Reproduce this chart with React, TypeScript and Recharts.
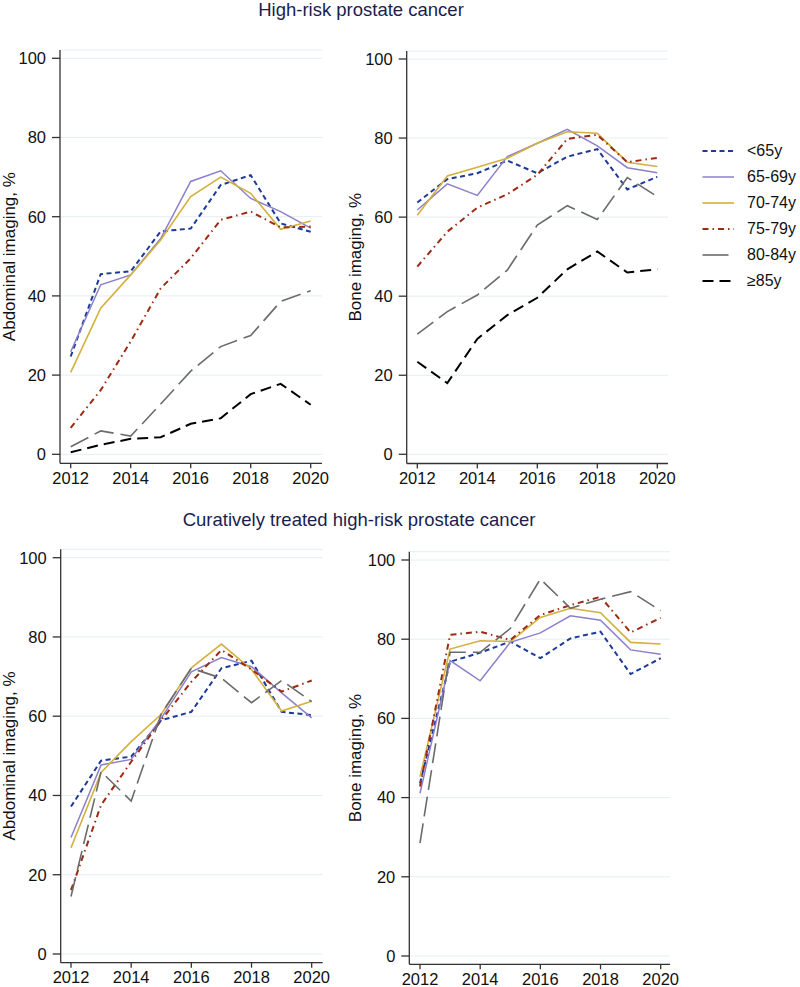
import { LineChart, Line, XAxis, YAxis, CartesianGrid, Legend } from "recharts";

// --- data ---
const years = [2012, 2013, 2014, 2015, 2016, 2017, 2018, 2019, 2020];
const ageGroups = ["<65y", "65-69y", "70-74y", "75-79y", "80-84y", "≥85y"];
const yTicks = [0, 20, 40, 60, 80, 100];
const xTicks = [2012, 2014, 2016, 2018, 2020];

// High-risk, abdominal imaging
const hrAbdLt65 = [24.7, 45.5, 46.2, 56.3, 57.0, 68.0, 70.5, 58.3, 56.2];
const hrAbd6569 = [25.9, 42.8, 45.3, 54.5, 68.9, 71.6, 64.6, 61.3, 57.1];
const hrAbd7074 = [20.7, 36.9, 45.3, 54.1, 65.1, 70.0, 65.9, 56.8, 58.9];
const hrAbd7579 = [6.7, 16.2, 28.5, 41.9, 49.5, 59.2, 61.3, 57.3, 57.5];
const hrAbd8084 = [1.9, 5.9, 4.6, 12.7, 21.0, 27.2, 30.0, 38.6, 41.3];
const hrAbd85 = [0.5, 2.4, 3.9, 4.3, 7.7, 9.1, 15.2, 17.8, 12.5];

// High-risk, bone imaging
const hrBoneLt65 = [63.7, 69.6, 71.1, 74.3, 71.1, 75.3, 77.2, 67.0, 70.2];
const hrBone6569 = [61.8, 68.4, 65.5, 75.3, 78.7, 82.2, 78.0, 72.5, 71.2];
const hrBone7074 = [60.5, 70.4, 72.6, 74.9, 78.7, 81.6, 81.2, 73.9, 72.8];
const hrBone7579 = [47.5, 56.3, 62.4, 65.8, 70.7, 79.8, 80.8, 73.9, 75.0];
const hrBone8084 = [30.4, 36.1, 40.3, 46.6, 58.0, 62.9, 59.4, 70.0, 65.2];
const hrBone85 = [23.4, 18.0, 29.2, 35.2, 39.6, 46.8, 51.3, 46.0, 46.8];

// Curatively treated, abdominal imaging
const ctAbdLt65 = [37.2, 48.8, 49.8, 59.0, 61.1, 72.1, 74.0, 61.1, 60.3];
const ctAbd6569 = [29.4, 47.7, 49.1, 59.5, 71.2, 74.8, 72.5, 65.9, 59.6];
const ctAbd7074 = [26.8, 45.8, 53.6, 60.5, 72.2, 78.2, 71.8, 61.3, 63.8];
const ctAbd7579 = [16.1, 37.6, 48.5, 59.0, 68.7, 76.7, 71.8, 66.2, 69.0];
const ctAbd8084 = [14.5, 46.0, 38.6, 60.6, 72.1, 69.6, 63.4, 69.0, 63.7];

// Curatively treated, bone imaging
const ctBoneLt65 = [43.6, 74.3, 76.6, 79.4, 75.2, 80.2, 81.9, 71.2, 75.2];
const ctBone6569 = [41.1, 74.6, 69.5, 79.2, 81.6, 85.9, 84.8, 77.3, 76.2];
const ctBone7074 = [45.3, 77.5, 79.6, 79.4, 85.5, 87.8, 86.7, 79.2, 78.8];
const ctBone7579 = [42.8, 81.1, 81.9, 79.8, 86.1, 88.6, 90.7, 81.7, 85.4];
const ctBone8084 = [28.5, 76.7, 76.7, 82.7, 95.2, 87.8, 90.1, 92.0, 87.2];

// line looks per age group (same order as ageGroups)
const LOOKS = [
  { color: "#1d3a99", width: 2, dash: "5 3.5" },
  { color: "#8b80cc", width: 1.5, dash: undefined },
  { color: "#d4b03c", width: 1.6, dash: undefined },
  { color: "#9e2a14", width: 2, dash: "6 4 1.5 4" },
  { color: "#6b6b6b", width: 1.6, dash: "20 7" },
  { color: "#000000", width: 2, dash: "11 6" },
];

const FONT = "'Liberation Sans', Arial, sans-serif";
const AXIS = "#333333";

function toRows(cols: number[][]) {
  return years.map((year, i) => {
    const row: Record<string, number> = { year };
    cols.forEach((c, k) => {
      row["s" + k] = c[i];
    });
    return row;
  });
}

type Box = {
  left: number; top: number; axisX: number; axisTop: number; axisBottom: number;
  right: number; y100: number; y0: number; x2012: number; x2020: number; labelX: number;
};

function LegendBox({ payload }: any) {
  // keep the age order, not the alphabetical one
  const items = [...(payload || [])].sort(
    (a: any, b: any) => Number(String(a.dataKey).slice(1)) - Number(String(b.dataKey).slice(1))
  );
  return (
    <div style={{ fontFamily: FONT, fontSize: 16, color: "#111" }}>
      {items.map((entry: any) => {
        const k = Number(String(entry.dataKey).slice(1));
        const look = LOOKS[k];
        const len = k === 4 ? 26 : 31.5;
        return (
          <div key={entry.value} style={{ height: 26, display: "flex", alignItems: "center" }}>
            <svg width={45} height={26} style={{ display: "block" }}>
              <line x1={0.5} x2={0.5 + len} y1={13} y2={13} stroke={look.color}
                strokeWidth={look.width} strokeDasharray={k === 4 ? undefined : look.dash} />
            </svg>
            <span style={{ whiteSpace: "nowrap", lineHeight: "26px" }}>{entry.value}</span>
          </div>
        );
      })}
    </div>
  );
}

function Panel({ box, cols, label, legend }: { box: Box; cols: number[][]; label: string; legend?: boolean }) {
  const rows = toRows(cols);
  const width = legend ? 800 - box.left : box.right + 28 - box.left;
  const height = box.axisBottom + 30 - box.top;
  return (
    <div style={{ position: "absolute", left: box.left, top: box.top }}>
      <LineChart
        width={width}
        height={height}
        data={rows}
        margin={{ top: box.axisTop - box.top, right: box.left + width - box.right, left: 0, bottom: 0 }}
      >
        <CartesianGrid vertical={false} stroke="#e4eef1" strokeWidth={1} />
        <XAxis
          dataKey="year"
          type="number"
          domain={[2012, 2020]}
          ticks={xTicks}
          interval={0}
          padding={{ left: box.x2012 - box.axisX, right: box.right - box.x2020 }}
          height={box.top + height - box.axisBottom}
          tickSize={5}
          tickMargin={4}
          stroke={AXIS}
          strokeWidth={1.3}
          tick={{ fill: "#111", fontSize: 16.5, fontFamily: FONT }}
          allowDecimals={false}
        />
        <YAxis
          type="number"
          domain={[0, 100]}
          ticks={yTicks}
          interval={0}
          width={box.axisX - box.left}
          padding={{ top: box.y100 - box.axisTop, bottom: box.axisBottom - box.y0 }}
          tickSize={8}
          tickMargin={6}
          stroke={AXIS}
          strokeWidth={1.3}
          tick={{ fill: "#111", fontSize: 16.5, fontFamily: FONT }}
          label={{
            value: label,
            angle: -90,
            position: "insideLeft",
            offset: box.labelX,
            style: { textAnchor: "middle", fontSize: 17, fontFamily: FONT, fill: "#111" },
          }}
        />
        {legend && (
          <Legend
            layout="vertical"
            verticalAlign="middle"
            align="center"
            content={<LegendBox />}
            wrapperStyle={{ position: "absolute", left: 702 - box.left, top: 151 - 13 - box.top, width: 98 }}
          />
        )}
        {cols.map((_, k) => (
          <Line
            key={k}
            dataKey={"s" + k}
            name={ageGroups[k]}
            type="linear"
            stroke={LOOKS[k].color}
            strokeWidth={LOOKS[k].width}
            strokeDasharray={LOOKS[k].dash}
            dot={false}
            activeDot={false}
            isAnimationActive={false}
          />
        ))}
      </LineChart>
    </div>
  );
}

const P1: Box = { left: 0, top: 40, axisX: 60, axisTop: 50, axisBottom: 463.3, right: 322, y100: 58.3, y0: 454.3, x2012: 70.7, x2020: 310.7, labelX: 9 };
const P2: Box = { left: 340, top: 40, axisX: 406.7, axisTop: 51, axisBottom: 463.5, right: 668, y100: 59, y0: 454.3, x2012: 417.3, x2020: 657.3, labelX: 15 };
const P3: Box = { left: 0, top: 540, axisX: 60.7, axisTop: 549.3, axisBottom: 962.7, right: 322.7, y100: 557.7, y0: 954, x2012: 71, x2020: 311.7, labelX: 9 };
const P4: Box = { left: 340, top: 540, axisX: 409.3, axisTop: 551.7, axisBottom: 964.3, right: 670, y100: 560, y0: 956, x2012: 420, x2020: 660.7, labelX: 15 };

export default function App() {
  return (
    <div style={{ position: "absolute", left: 0, top: 0, width: 800, height: 987, background: "#fff", overflow: "hidden" }}>
      <svg width={800} height={987} style={{ position: "absolute", left: 0, top: 0 }}>
        <text x={361} y={16} textAnchor="middle" fontFamily={FONT} fontSize={18.5} fill="#1b1d4f">
          High-risk prostate cancer
        </text>
        <text x={359} y={526} textAnchor="middle" fontFamily={FONT} fontSize={18.5} fill="#1b1d4f">
          Curatively treated high-risk prostate cancer
        </text>
      </svg>
      <Panel box={P1} label="Abdominal imaging, %" cols={[hrAbdLt65, hrAbd6569, hrAbd7074, hrAbd7579, hrAbd8084, hrAbd85]} />
      <Panel box={P2} label="Bone imaging, %" legend cols={[hrBoneLt65, hrBone6569, hrBone7074, hrBone7579, hrBone8084, hrBone85]} />
      <Panel box={P3} label="Abdominal imaging, %" cols={[ctAbdLt65, ctAbd6569, ctAbd7074, ctAbd7579, ctAbd8084]} />
      <Panel box={P4} label="Bone imaging, %" cols={[ctBoneLt65, ctBone6569, ctBone7074, ctBone7579, ctBone8084]} />
    </div>
  );
}
